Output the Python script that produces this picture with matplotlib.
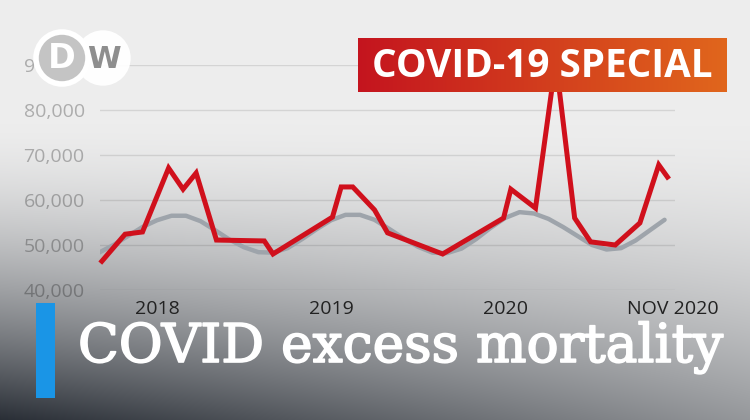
import matplotlib
matplotlib.use("Agg")
import matplotlib.pyplot as plt
import matplotlib.patheffects as pe
import numpy as np
from matplotlib.patches import Circle, Rectangle

# months counted from Jan 2018 = 0
red_months = [-3.8, -2.2, -1.0, 0.8, 1.8, 2.7, 4.1, 7.4, 8.0, 12.1, 12.7, 13.5,
              15.0, 15.9, 19.7, 23.9, 24.4, 26.1, 27.5, 28.8, 29.9, 31.6, 33.3,
              34.6, 35.2]
red_deaths = [46400, 52400, 52900, 67100, 62400, 66000, 51100, 50900, 48000,
              56200, 62900, 62900, 57800, 52700, 48000, 56000, 62400, 58200,
              91000, 56000, 50700, 50000, 54900, 67800, 65100]

gray_months = list(range(-4, 36))
gray_deaths = [48300, 50000, 52000, 54000, 55500, 56500, 56500, 55300, 53300,
               51200, 49500, 48400, 48300, 49300, 51300, 53500, 55500, 56700,
               56700, 55600, 53600, 51500, 49600, 48300, 48200, 49200, 51300,
               53800, 56000, 57300, 57000, 55800, 54000, 52000, 50000, 49000,
               49300, 51000, 53300, 55600]

y_ticks = [40000, 50000, 60000, 70000, 80000, 90000]
x_ticks = [0, 12, 24, 35.6]
x_labels = ["2018", "2019", "2020", "NOV 2020"]

title = "COVID excess mortality"
banner = "COVID-19 SPECIAL"

W, H = 750, 420
fig = plt.figure(figsize=(7.5, 4.2), dpi=100)

# background gradient: light top, dark bottom-left
bg = fig.add_axes([0, 0, 1, 1], zorder=0)
yy, xx = np.mgrid[0:H, 0:W]
ty = np.clip((yy - 120) / 300.0, 0, 1) ** 1.6
tx = 1 - 0.55 * xx / W
d = (ty * tx)[..., None]
light = np.array([0.93, 0.93, 0.93])
dark = np.array([0.16, 0.18, 0.21])
bg.imshow(light * (1 - d) + dark * d, extent=[0, W, H, 0], aspect="auto")
bg.set_xlim(0, W)
bg.set_ylim(H, 0)
bg.axis("off")

# chart
ax = fig.add_axes([100 / W, (H - 290) / H, 575 / W, 225 / H], zorder=1)
ax.patch.set_alpha(0)
ax.plot(gray_months, gray_deaths, color="#9ea4ab", lw=3.2, solid_capstyle="round")
ax.plot(red_months, red_deaths, color="#d0101c", lw=3.6, clip_on=False,
        solid_joinstyle="miter")
ax.set_xlim(-3.93, 35.72)
ax.set_ylim(40000, 90000)
ax.set_yticks(y_ticks)
ax.set_yticklabels([f"{v:,}" for v in y_ticks])
ax.set_xticks(x_ticks)
ax.set_xticklabels(x_labels)
ax.grid(axis="y", color="black", alpha=0.1, lw=1)
ax.set_axisbelow(True)
for s in ax.spines.values():
    s.set_visible(False)
ax.tick_params(axis="y", length=0, pad=11, labelsize=14, labelcolor=(0, 0, 0, 0.27))
ax.tick_params(axis="x", length=0, pad=7, labelsize=14, labelcolor="#222222")
for lab in ax.get_xticklabels() + ax.get_yticklabels():
    lab.set_family("Open Sans")

# overlay in pixel coordinates
ov = fig.add_axes([0, 0, 1, 1], zorder=2)
ov.axis("off")
ov.patch.set_alpha(0)

# banner with red-orange gradient
grad = np.linspace(0, 1, 200)[None, :, None]
c1 = np.array([0.77, 0.08, 0.12])
c2 = np.array([0.88, 0.40, 0.11])
ov.imshow(c1 * (1 - grad) + c2 * grad, extent=[358, 727, 92, 38], aspect="auto")
ov.set_xlim(0, W)
ov.set_ylim(H, 0)
bt = ov.text(542, 77, banner, color="white", fontsize=25, fontweight="bold",
             family="Open Sans", ha="center", va="baseline")

# DW logo
ov.add_patch(Circle((103, 58), 27, facecolor="white", edgecolor="white", alpha=0.95))
ov.add_patch(Circle((62, 58), 26, facecolor="#c4c4c4", edgecolor="white", lw=4))
ov.text(62, 59, "D", color="white", fontsize=24, fontweight="bold",
        family="DejaVu Sans", ha="center", va="center")
ov.text(104, 59, "W", color="#8e8e8e", fontsize=22, fontweight="bold",
        family="DejaVu Sans", ha="center", va="center")

# blue bar and title
ov.add_patch(Rectangle((36, 303), 19, 95, facecolor="#1a95e6", edgecolor="none"))
tt = ov.text(78, 362, title, color="white", fontsize=40, family="DejaVu Serif",
             ha="left", va="baseline")
tt.set_path_effects([pe.withStroke(linewidth=1.2, foreground="white")])

# fit text widths
r = fig.canvas.get_renderer()
for t, target in [(tt, 644), (bt, 340)]:
    w = t.get_window_extent(r).width
    t.set_fontsize(t.get_fontsize() * target / w)

fig.savefig("out.png", dpi=100)
